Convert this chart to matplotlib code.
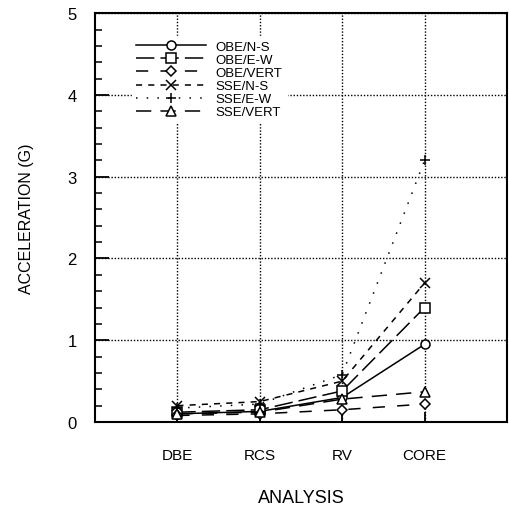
import numpy as np
import matplotlib
matplotlib.use('Agg')
import matplotlib.pyplot as plt
from matplotlib.ticker import MultipleLocator

plt.rcParams['font.family'] = ['Liberation Sans', 'DejaVu Sans']

# analysis stages and peak accelerations (G)
stages = ['DBE', 'RCS', 'RV', 'CORE']
obe_ns = [0.10, 0.13, 0.30, 0.95]
obe_ew = [0.12, 0.15, 0.38, 1.40]
obe_vert = [0.08, 0.10, 0.15, 0.22]
sse_ns = [0.20, 0.25, 0.50, 1.70]
sse_ew = [0.17, 0.22, 0.58, 3.20]
sse_vert = [0.10, 0.12, 0.28, 0.37]

series = [
    ('OBE/N-S', obe_ns, 'o', '-'),
    ('OBE/E-W', obe_ew, 's', (0, (12, 4))),
    ('OBE/VERT', obe_vert, 'D', (0, (8, 8))),
    ('SSE/N-S', sse_ns, 'x', (0, (4, 4))),
    ('SSE/E-W', sse_ew, '+', (0, (1, 6))),
    ('SSE/VERT', sse_vert, '^', (0, (10, 6))),
]

x = np.arange(1, len(stages) + 1)

fig = plt.figure(figsize=(5.09, 5.06), dpi=100)
ax = fig.add_axes([0.1866, 0.164, 0.8094, 0.808])

for name, vals, mk, ls in series:
    ms = 5 if mk == 'D' else 6.5
    ax.plot(x, vals, color='black', linestyle=ls, linewidth=1.1,
            marker=mk, markersize=ms, markerfacecolor='white',
            markeredgecolor='black', markeredgewidth=1.1, label=name)

ax.set_xlim(0, 5)
ax.set_ylim(0, 5)
ax.set_xticks(x)
ax.set_xticklabels(stages, fontsize=11)
ax.yaxis.set_major_locator(MultipleLocator(1))
ax.yaxis.set_minor_locator(MultipleLocator(0.2))
ax.tick_params(axis='y', which='major', direction='in', length=10, width=1.3,
               labelsize=12, pad=13)
ax.tick_params(axis='y', which='minor', direction='in', length=5, width=1.1)
ax.tick_params(axis='x', which='major', direction='in', length=7, width=1.3,
               pad=19)
ax.grid(True, which='major', color='black', linestyle=(0, (1, 1.3)),
        linewidth=1.0)
for s in ax.spines.values():
    s.set_linewidth(1.5)

ax.set_xlabel('ANALYSIS', fontsize=13, labelpad=19)
ax.set_ylabel('ACCELERATION (G)', fontsize=11.5, labelpad=24)

leg = ax.legend(loc='upper left', bbox_to_anchor=(0.09, 0.943), fontsize=9.5,
                handlelength=5.3, handletextpad=0.75, labelspacing=0.07,
                frameon=True, borderaxespad=0, borderpad=0.3)
leg.get_frame().set_edgecolor('white')
leg.get_frame().set_facecolor('white')
leg.get_frame().set_alpha(1.0)

fig.savefig('out.png', dpi=100)
